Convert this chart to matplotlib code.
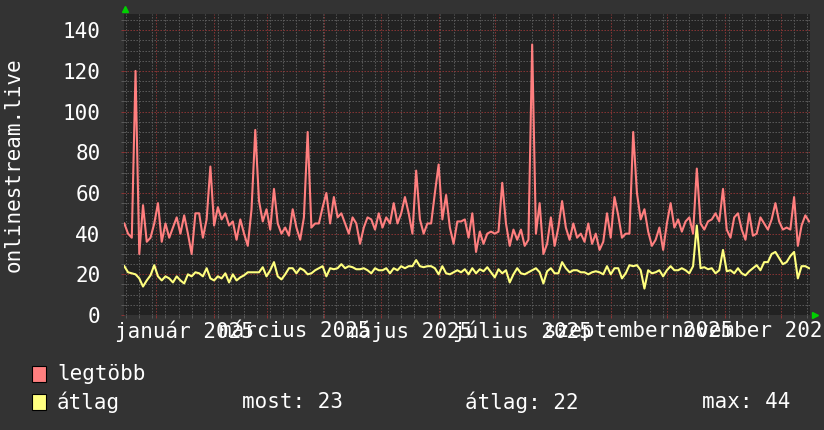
import pandas as pd
import matplotlib
matplotlib.use("Agg")
import matplotlib.pyplot as plt
import matplotlib.dates as mdates
from matplotlib.patches import Rectangle
from matplotlib.ticker import MultipleLocator

# samples every 2 days, first one on 2024-12-15
start_date = "2024-12-15"
step_days = 2

legtobb = [
    45, 40, 38, 120, 30, 54, 36, 38, 45, 55, 36, 45, 38, 43, 48, 40, 49, 40, 30, 50,
    50, 38, 47, 73, 44, 53, 47, 50, 44, 46, 37, 47, 40, 34, 52, 91, 56, 46, 52, 42,
    62, 45, 40, 43, 39, 52, 43, 37, 48, 90, 43, 45, 45, 53, 60, 45, 58, 48, 50, 45,
    40, 48,
    45, 35, 43, 48, 47, 42, 50, 43, 48, 45, 55, 45, 50, 58, 50, 40, 71, 47, 40, 45,
    45, 60, 74, 47, 59, 43, 35, 46, 46, 47, 38, 50, 31, 41, 35, 40, 41, 40, 41, 65,
    45, 34, 42, 37, 42, 34, 37, 133, 40, 55, 30, 35, 48, 34, 43, 56, 43, 37, 45, 38,
    40, 36,
    45, 35, 40, 32, 36, 50, 38, 58, 49, 38, 40, 40, 90, 60, 47, 52, 41, 34, 37, 43,
    32, 45, 55, 43, 47, 41, 46, 48, 40, 72, 45, 42, 46, 47, 50, 46, 62, 42, 38, 48,
    50, 42, 37, 50, 39, 40, 48, 45, 42, 47, 55, 46, 42, 43, 42, 58, 34, 44, 49, 46,
]

atlag = [
    24, 21, 20.5, 20, 18, 14, 17, 19.5, 24.5, 19, 17, 19, 18, 16, 19, 17, 15.5, 20, 19, 21,
    20.5, 19, 23, 18, 17, 19, 18, 20.5, 16, 20, 17, 18.5, 19.5, 21, 21, 21, 21, 23.5, 19, 22,
    26, 19, 17.5, 20, 23, 23, 20.5, 23, 22, 20, 20.5, 22, 23, 24, 19, 23, 22.5, 23, 25, 23,
    24, 23.5,
    22.5, 22.5, 23, 22, 20.5, 23, 22, 22, 23, 20.5, 23, 22, 24, 23, 24, 24, 27, 24, 23.5, 24,
    24, 23, 20, 24, 20.5, 20, 21, 22, 21, 22.5, 20, 23, 20.5, 22.5, 21.5, 23.5, 21, 18.5, 22.5, 20.5,
    22, 16, 20, 23, 20.5, 20, 21, 22, 23, 21, 15.5, 21.5, 23, 20.5, 20.5, 26, 23, 21, 22, 22,
    21, 21,
    20, 21, 21.5, 21, 20, 24, 20, 23, 23, 18, 20.5, 24.5, 24, 24.5, 22, 13, 22, 20.5, 21, 22,
    19, 22, 24, 22, 22, 23, 22, 20.5, 24, 44, 23, 23.5, 22.5, 23, 20.5, 22, 32, 21.5, 22, 20.5,
    23, 20.5, 19.5, 21.5, 23, 24.5, 22, 26, 26, 30, 31, 28, 25, 26, 29, 31, 18, 24, 24, 23,
]

label_months = ["2025-01-01", "2025-03-01", "2025-05-01", "2025-07-01", "2025-09-01", "2025-11-01"]
month_names = ["január", "március", "május", "július", "szeptember", "november"]

legend_names = ["legtöbb", "átlag"]
most, atl, mx = 23, 22, 44

dates = pd.date_range(start_date, periods=len(legtobb), freq=f"{step_days}D")

plt.rcParams["font.family"] = ["DejaVu Sans Mono"]
fs = 15
txt = "#ffffff"
red = "#ff7f7f"
yel = "#ffff7f"

fig = plt.figure(figsize=(8.24, 4.30), dpi=100, facecolor="#333333")
ax = fig.add_axes([124 / 824, 115 / 430, 686 / 824, 301 / 430], facecolor="#222222")

# grid
ax.set_ylim(0, 148)
ax.set_xlim(pd.Timestamp("2024-12-14 20:00"), pd.Timestamp("2025-12-16 12:00"))
ax.yaxis.set_major_locator(MultipleLocator(20))
ax.yaxis.set_minor_locator(MultipleLocator(5))
ax.xaxis.set_major_locator(mdates.MonthLocator())
ax.xaxis.set_minor_locator(mdates.WeekdayLocator(byweekday=mdates.MO))
ax.xaxis.set_major_formatter(plt.NullFormatter())
ax.grid(which="minor", color="#5c5c5c", linestyle=(0, (1.4, 1.6)), linewidth=0.72)
ax.grid(which="major", color="#8c3535", linestyle=(0, (1.4, 1.6)), linewidth=0.72)
ax.set_axisbelow(True)
for s in ax.spines.values():
    s.set_visible(False)

ax.tick_params(axis="both", which="both", length=2, width=0.7, direction="out")
ax.tick_params(axis="both", which="major", colors="#8c3535")
ax.tick_params(axis="both", which="minor", colors="#5c5c5c")
ax.tick_params(axis="y", which="major", labelcolor=txt, labelsize=fs, pad=15)

# series
ax.plot(dates, legtobb, color=red, linewidth=1.5, zorder=3)
ax.plot(dates, atlag, color=yel, linewidth=1.5, zorder=3)

# x labels centred half a month after each second month start
for m, name in zip(label_months, month_names):
    pos = pd.Timestamp(m) + pd.Timedelta(days=15)
    ax.annotate(f"{name} 2025", xy=(pos, 0), xycoords=("data", "axes fraction"),
                xytext=(0, -4), textcoords="offset points", ha="center", va="top",
                color=txt, fontsize=fs, annotation_clip=False)

# green arrows at the axis ends
ax.plot([0.002], [1.015], marker="^", color="#00d000", markersize=4, transform=ax.transAxes, clip_on=False)
ax.plot([1.007], [0.0], marker=">", color="#00d000", markersize=4, transform=ax.transAxes, clip_on=False)

fig.text(14 / 824, 1 - 165 / 430, "onlinestream.live", rotation=90, ha="center", va="center",
         color=txt, fontsize=fs)

# legend
for i, (name, col) in enumerate(zip(legend_names, [red, yel])):
    yc = 374 + 28 * i
    fig.patches.append(Rectangle((32 / 824, 1 - (yc + 8) / 430), 14 / 824, 16 / 430,
                                 transform=fig.transFigure, facecolor=col, edgecolor="#000000",
                                 linewidth=0.8))
    fig.text(57 / 824, 1 - yc / 430, name, ha="left", va="center", color=txt, fontsize=fs)

y2 = 1 - 402 / 430
fig.text(242 / 824, y2, f"most: {most}", ha="left", va="center", color=txt, fontsize=fs)
fig.text(465 / 824, y2, f"átlag: {atl}", ha="left", va="center", color=txt, fontsize=fs)
fig.text(702 / 824, y2, f"max: {mx}", ha="left", va="center", color=txt, fontsize=fs)

fig.savefig("out.png", dpi=100, facecolor=fig.get_facecolor())
